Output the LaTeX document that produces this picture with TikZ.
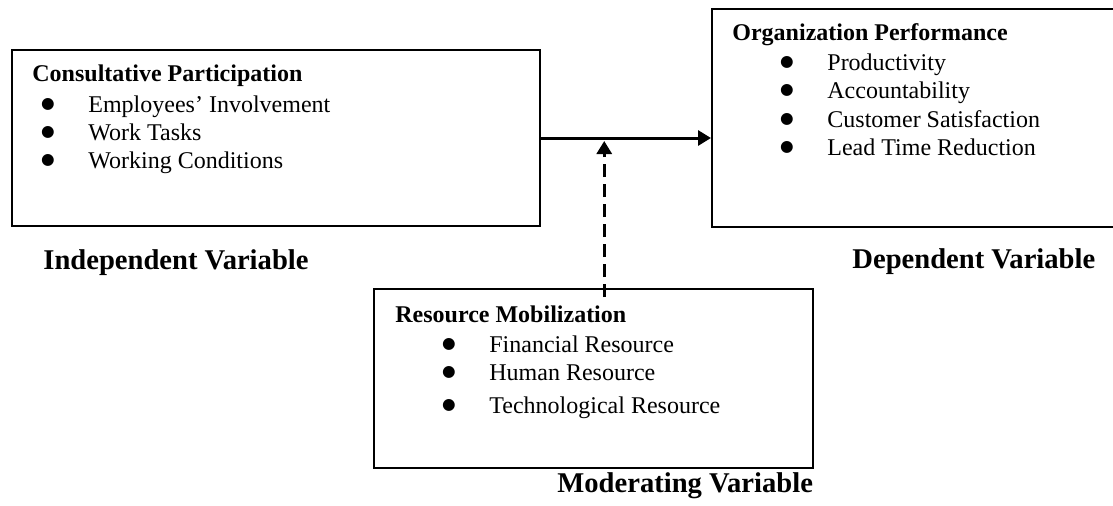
\documentclass[tikz,border=0pt]{standalone}
\usepackage{fontspec}
\setmainfont{Liberation Serif}
\newfontfamily\symfont{DejaVu Sans}
\usetikzlibrary{positioning}
\usetikzlibrary{arrows.meta}

% bullet as the word processor draws it, a bit larger than \textbullet
\newcommand{\bul}{\makebox[24.5pt][l]{\hspace{0.8pt}\raisebox{1.6pt}{\symfont\fontsize{7.8pt}{7.8pt}\selectfont ●}}}

\begin{document}
\begin{tikzpicture}[
		x=0.5pt, y=-0.5pt,
		% boxes and text
		varbox/.style={draw, line width=1pt, anchor=north west, inner sep=0pt},
		head/.style={anchor=base west, inner sep=0pt, font=\bfseries\fontsize{12pt}{14pt}\selectfont},
		item/.style={anchor=base west, inner sep=0pt, font=\fontsize{12pt}{14pt}\selectfont},
		varlabel/.style={anchor=base west, inner sep=0pt, font=\bfseries\fontsize{14.3pt}{17pt}\selectfont},
		arrow/.style={-{Triangle[length=6.5pt, width=7.5pt]}, line width=1.5pt},
		]
		\useasboundingbox (0,0) rectangle (1113,505);

		% Boxes
		\node[varbox, minimum width=264pt, minimum height=88pt] (indep) at (11,49) {};
		\node[varbox, minimum width=204.5pt, minimum height=109pt] (dep) at (711,8) {};
		\node[varbox, minimum width=219.5pt, minimum height=89.5pt] (mod) at (373,288) {};

		% Independent variable
		\node[head] (indepHead) at (32,81) {Consultative Participation};
		\node[item] (indepA) at (39,112) {\bul Employees’ Involvement};
		\node[item] (indepB) at (39,140) {\bul Work Tasks};
		\node[item] (indepC) at (39,168) {\bul Working Conditions};

		% Dependent variable
		\node[head] (depHead) at (732,40) {Organization Performance};
		\node[item] (depA) at (778,70) {\bul Productivity};
		\node[item] (depB) at (778,98) {\bul Accountability};
		\node[item] (depC) at (778,127) {\bul Customer Satisfaction};
		\node[item] (depD) at (778,155) {\bul Lead Time Reduction};

		% Moderating variable
		\node[head] (modHead) at (395,322) {Resource Mobilization};
		\node[item] (modA) at (440,352) {\bul Financial Resource};
		\node[item] (modB) at (440,380) {\bul Human Resource};
		\node[item] (modC) at (440,413) {\bul Technological Resource};

		% Labels under the boxes
		\node[varlabel] (indepLabel) at (43,269) {Independent Variable};
		\node[varlabel] (depLabel) at (852,268) {Dependent Variable};
		\node[varlabel] (modLabel) at (557,492) {Moderating Variable};

		% Arrows
		\draw[arrow] (indep.east) -- coordinate[pos=0.372] (meet) (indep.east -| dep.west);
		\draw[arrow, dash pattern=on 6.5pt off 3.5pt] (mod.north -| meet) ++(0,9) -- ([yshift=-1.5pt]meet);

	\end{tikzpicture}
\end{document}
